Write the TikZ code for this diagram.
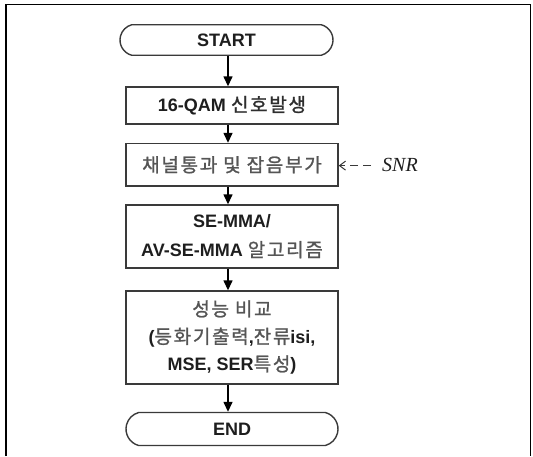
\documentclass[tikz,border=0pt]{standalone}
\usepackage{fontspec}
\setmainfont{Liberation Sans}
\newfontfamily\krfont[LetterSpace=9,FakeBold=1.2]{Noto Sans CJK KR}
\newfontfamily\snrfont{Liberation Serif}
\usetikzlibrary{arrows.meta,shapes.misc}
\definecolor{bordergray}{HTML}{3A3A3A}
\definecolor{krgray}{HTML}{555555}
\definecolor{krdark}{HTML}{2E2E2E}
\definecolor{txtdark}{HTML}{1E1E1E}
\newcommand{\kr}[1]{{\krfont\mdseries\fontsize{19}{\the\baselineskip}\selectfont\color{krgray}#1}}
\newcommand{\krd}[1]{{\krfont\mdseries\fontsize{19}{\the\baselineskip}\selectfont\color{krdark}#1}}
\tikzset{
  stepbox/.style={draw=bordergray, line width=1.4pt, rectangle, minimum width=212pt, inner sep=0pt, align=center, text=txtdark, font=\bfseries\fontsize{18}{22}\selectfont},
  termbox/.style={draw=bordergray, line width=1.4pt, rounded rectangle, rounded rectangle arc length=150, inner sep=0pt, align=center, text=txtdark, font=\bfseries\fontsize{18}{22}\selectfont},
  flow/.style={line width=1.4pt, draw=black, -{Triangle[width=9pt,length=10pt]}},
  snrarrow/.style={line width=1pt, draw=bordergray, dash pattern=on 8pt off 5pt, -{Straight Barb[width=9pt,length=6pt]}}
}
\begin{document}
\begin{tikzpicture}[x=1pt,y=-1pt]
\useasboundingbox (0,0) rectangle (533,456);
% outer frame
\draw[line width=1.8pt, black] (6,456) -- (6,4.5) -- (530.5,4.5) -- (530.5,456);

\node[termbox, minimum width=213pt, minimum height=30.5pt] (start) at (226.5,40) {START};
\node[stepbox, minimum height=37pt] (b1) at (232,105.5) {16-QAM \krd{신호발생}};
\node[stepbox, minimum height=42.5pt] (b2) at (232,164.75) {\kr{채널통과 및 잡음부가}};
\node[stepbox, minimum height=63pt, font=\bfseries\fontsize{18}{29}\selectfont] (b3) at (232,236.5) {SE-MMA/\\AV-SE-MMA \kr{알고리즘}};
\node[stepbox, minimum height=93pt, font=\bfseries\fontsize{18}{27.5}\selectfont] (b4) at (232,337.5) {\kr{성능 비교}\\(\kr{등화기출력},\kr{잔류}isi,\\MSE, SER\kr{특성})};
\node[termbox, minimum width=212pt, minimum height=33pt] (end) at (232,429) {END};

\coordinate (ax) at (228,0);
\draw[flow] (start.south -| ax) -- (b1.north -| ax);
\draw[flow] (b1.south -| ax) -- (b2.north -| ax);
\draw[flow] (b2.south -| ax) -- (b3.north -| ax);
\draw[flow] (b3.south -| ax) -- (b4.north -| ax);
\draw[flow] (b4.south -| ax) -- (end.north -| ax);

\node[font=\snrfont\itshape\fontsize{20}{24}\selectfont, text=txtdark, inner sep=0pt] (snr) at (400,165) {SNR};
\coordinate (snrstart) at (371,165.6);
\draw[snrarrow] (snrstart) -- (b2.east |- snrstart);
\end{tikzpicture}
\end{document}
